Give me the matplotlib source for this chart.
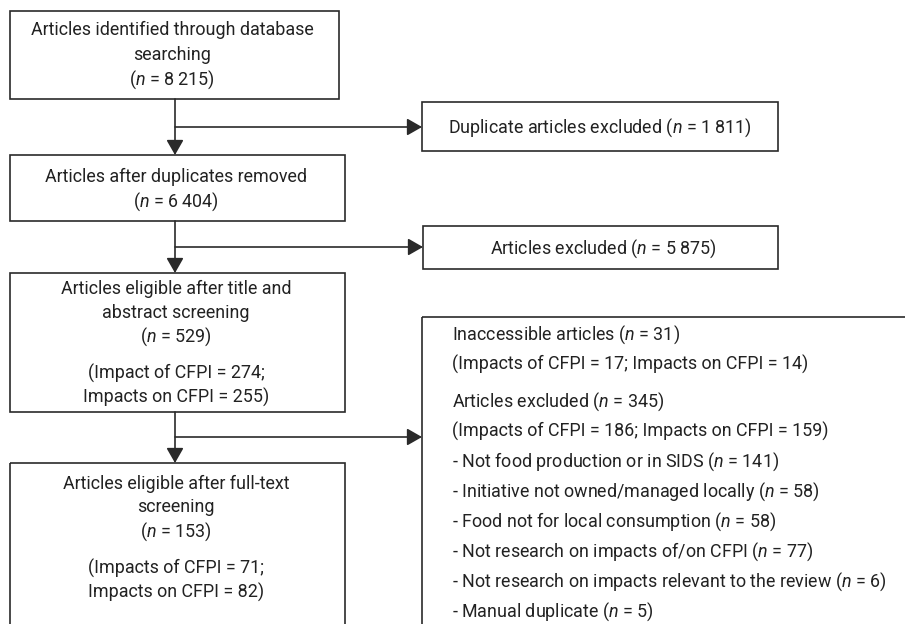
import matplotlib
matplotlib.use("Agg")
import matplotlib.pyplot as plt
from matplotlib.patches import Rectangle
from matplotlib import font_manager

names = {f.name for f in font_manager.fontManager.ttflist}
FONT = "Liberation Sans Narrow" if "Liberation Sans Narrow" in names else "Roboto"
plt.rcParams['font.family'] = [FONT, 'DejaVu Sans']
plt.rcParams['mathtext.fontset'] = 'custom'
plt.rcParams['mathtext.rm'] = FONT
plt.rcParams['mathtext.it'] = FONT + ':italic'

# ---- data ----
n_identified = "8 215"
n_duplicates = "1 811"
n_after_dup = "6 404"
n_excluded_ta = "5 875"
n_eligible_ta = "529"
ta_of, ta_on = 274, 255
n_eligible_ft = "153"
ft_of, ft_on = 71, 82
n_inaccessible = 31
inacc_of, inacc_on = 17, 14
n_excluded_ft = 345
excl_of, excl_on = 186, 159
reasons = ["Not food production or in SIDS", "Initiative not owned/managed locally",
           "Food not for local consumption", "Not research on impacts of/on CFPI",
           "Not research on impacts relevant to the review", "Manual duplicate"]
reason_counts = [141, 58, 58, 77, 6, 5]

N = r"$n$"
FS = 12.9
LC = "#2a2a2a"
TC = "#222222"

fig = plt.figure(figsize=(9.05, 6.24), dpi=100)
ax = fig.add_axes([0, 0, 1, 1])
ax.set_xlim(0, 905)
ax.set_ylim(624, 0)
ax.axis('off')

def box(x0, y0, x1, y1):
    ax.add_patch(Rectangle((x0, y0), x1 - x0, y1 - y0, fill=False, ec=LC, lw=1.2))

def ctext(x, y, s):
    ax.text(x, y + 1.5, s, ha='center', va='center', fontsize=FS, color=TC)

def arrow(x0, y0, x1, y1):
    ax.annotate("", xy=(x1, y1), xytext=(x0, y0),
                arrowprops=dict(arrowstyle='-|>,head_length=0.7,head_width=0.4', color=LC, lw=1.2,
                                mutation_scale=13, shrinkA=0, shrinkB=0))

# left column boxes
box(10, 11, 339, 99)
ctext(172, 28, "Articles identified through database")
ctext(172, 53, "searching")
ctext(172, 78, f"({N} = {n_identified})")

box(10, 155, 345, 221)
ctext(176, 175, "Articles after duplicates removed")
ctext(176, 200, f"({N} = {n_after_dup})")

box(10, 273, 345, 412)
ctext(176, 287, "Articles eligible after title and")
ctext(176, 311, "abstract screening")
ctext(176, 335, f"({N} = {n_eligible_ta})")
ctext(176, 372, f"(Impact of CFPI = {ta_of};")
ctext(176, 396, f"Impacts on CFPI = {ta_on})")

box(10, 463, 345, 640)
ctext(176, 482, "Articles eligible after full-text")
ctext(176, 506, "screening")
ctext(176, 530, f"({N} = {n_eligible_ft})")
ctext(176, 567, f"(Impacts of CFPI = {ft_of};")
ctext(176, 591, f"Impacts on CFPI = {ft_on})")

# right boxes
box(422, 102, 778, 151)
ctext(600, 126, f"Duplicate articles excluded ({N} = {n_duplicates})")

box(423, 226, 778, 269)
ctext(603, 247, f"Articles excluded ({N} = {n_excluded_ta})")

box(422, 317, 920, 640)
lines = [f"Inaccessible articles ({N} = {n_inaccessible})",
         f"(Impacts of CFPI = {inacc_of}; Impacts on CFPI = {inacc_on})",
         f"Articles excluded ({N} = {n_excluded_ft})",
         f"(Impacts of CFPI = {excl_of}; Impacts on CFPI = {excl_on})"]
lines += [f"- {r} ({N} = {c})" for r, c in zip(reasons, reason_counts)]
ys = [333, 363, 400, 430, 460, 490, 520, 550, 580, 610]
for y, s in zip(ys, lines):
    ax.text(452, y + 1.5, s, ha='left', va='center', fontsize=FS, color=TC)

# connectors
X = 175
for ytop, ybot, ybranch, xr in [(99, 155, 127, 422), (221, 273, 247, 423), (412, 463, 437, 422)]:
    arrow(X, ytop, X, ybot)
    arrow(X, ybranch, xr, ybranch)

fig.savefig("out.png", dpi=100)
